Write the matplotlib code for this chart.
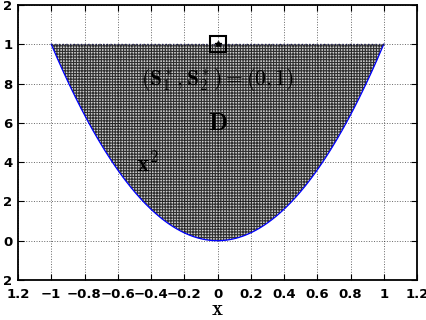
import numpy as np
import matplotlib
matplotlib.use("Agg")
import matplotlib.pyplot as plt

xticks = [-1.2, -1, -0.8, -0.6, -0.4, -0.2, 0, 0.2, 0.4, 0.6, 0.8, 1, 1.2]
xticklabels = ["1.2", "\u22121", "\u22120.8", "\u22120.6", "\u22120.4", "\u22120.2", "0", "0.2", "0.4", "0.6", "0.8", "1", "1.2"]
yticks = [-0.2, 0, 0.2, 0.4, 0.6, 0.8, 1, 1.2]
yticklabels = ["2", "0", "2", "4", "6", "8", "1", "2"]
curve_x = np.linspace(-1, 1, 401)
curve_y = curve_x ** 2
point = (0, 1)

plt.rcParams['mathtext.fontset'] = 'cm'
plt.rcParams['hatch.linewidth'] = 0.8

fig = plt.figure(figsize=(4.26, 3.2), dpi=100)
ax = fig.add_axes([18/426, 1 - 280/320, (417-18)/426, (280-5)/320])

ax.fill_between(curve_x, curve_y, 1, facecolor='#d0d0d0', hatch='++++++', edgecolor='#303030', linewidth=0, zorder=1)
ax.plot(curve_x, curve_y, color='blue', lw=0.9, zorder=2)
ax.plot([-1, 1], [1, 1], color='#202050', lw=1.0, ls=':', zorder=2)

ax.plot(*point, marker='s', ms=11, mfc='none', mec='black', mew=1.5, zorder=4)
ax.plot(*point, marker='*', ms=4, color='black', zorder=4)

ax.text(0, 0.82, r'$(\mathbf{S_1^*,S_2^*}) = (\mathbf{0,1})$', ha='center', va='center', fontsize=15.5, zorder=5)
ax.text(0, 0.60, r'$\mathbf{D}$', ha='center', va='center', fontsize=18, zorder=5)
ax.text(-0.42, 0.39, r'$\mathbf{x^2}$', ha='center', va='center', fontsize=17, zorder=5)

ax.set_xlim(-1.2, 1.2)
ax.set_ylim(-0.2, 1.2)
ax.set_xticks(xticks)
ax.set_xticklabels(xticklabels, fontweight='bold', fontsize=9.5)
ax.set_yticks(yticks)
ax.set_yticklabels(yticklabels, fontweight='bold', fontsize=9.5)
ax.tick_params(axis='x', direction='in', top=True, length=4, pad=6)
ax.tick_params(axis='y', direction='in', right=True, length=4, pad=4)
ax.grid(True, ls=':', color='black', lw=0.7, alpha=0.6)
for s in ax.spines.values():
    s.set_linewidth(1.3)
ax.set_xlabel(r'$\mathbf{x}$', fontsize=15, labelpad=-2)

fig.savefig('out.png', dpi=100)
